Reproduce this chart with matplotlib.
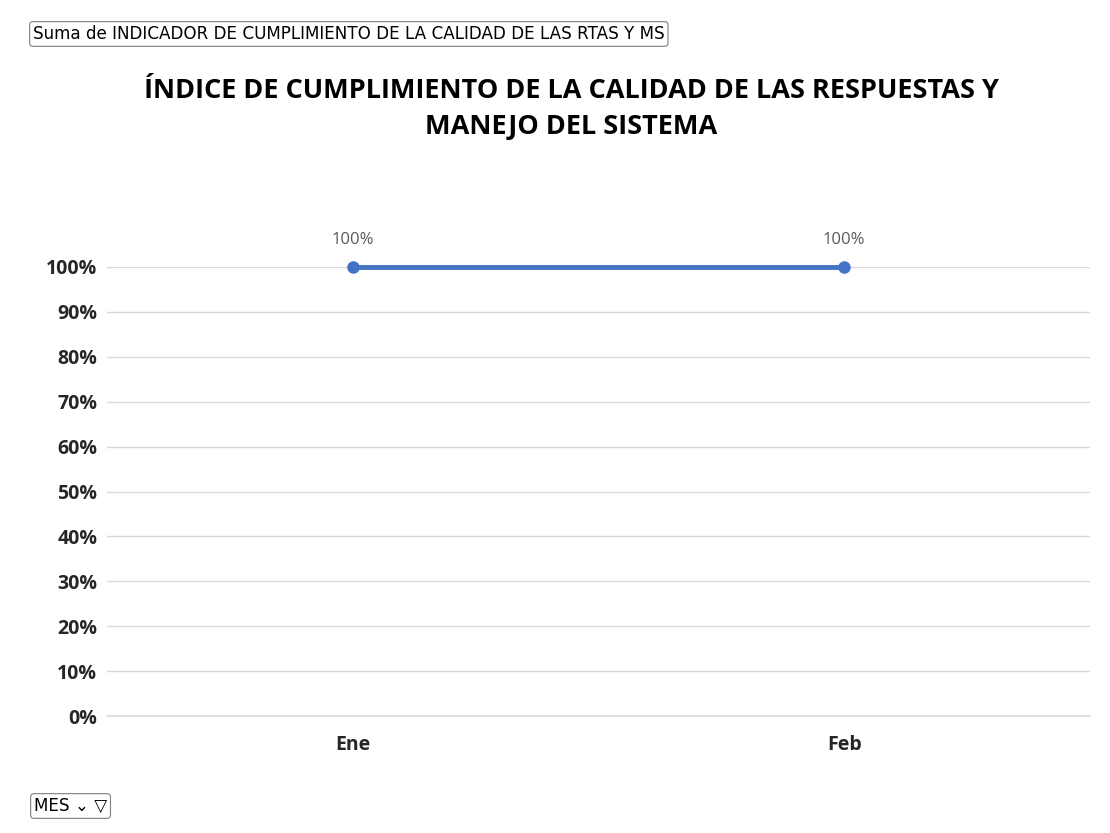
import matplotlib.pyplot as plt
from matplotlib.ticker import PercentFormatter

# data
months = ["Ene", "Feb"]
values = [1.0, 1.0]
data_labels = ["100%", "100%"]

title = "ÍNDICE DE CUMPLIMIENTO DE LA CALIDAD DE LAS RESPUESTAS Y\nMANEJO DEL SISTEMA"
field_label = "Suma de INDICADOR DE CUMPLIMIENTO DE LA CALIDAD DE LAS RTAS Y MS"

line_color = "#4472C4"

plt.rcParams['font.family'] = ['Open Sans', 'DejaVu Sans']

fig = plt.figure(figsize=(11.1, 8.33), dpi=100)
ax = fig.add_axes([107 / 1110, 1 - 716 / 833, (1090 - 107) / 1110, (716 - 267) / 833])

x = list(range(len(months)))
ax.plot(x, values, color=line_color, linewidth=3.5, marker="o", markersize=8, clip_on=False, zorder=3)
for xi, v, lab in zip(x, values, data_labels):
    ax.annotate(lab, (xi, v), xytext=(0, 14), textcoords="offset points",
                ha="center", va="bottom", fontsize=12, color="#595959")

ax.set_xlim(-0.5, len(months) - 0.5)
ax.set_ylim(0, 1.0)
ax.set_yticks([i / 10 for i in range(11)])
ax.yaxis.set_major_formatter(PercentFormatter(1.0, decimals=0))
ax.set_xticks(x)
ax.set_xticklabels(months)
for lab in ax.get_xticklabels() + ax.get_yticklabels():
    lab.set_fontweight("bold")
    lab.set_fontsize(14)
    lab.set_color("#262626")
ax.tick_params(axis="both", length=0)
ax.tick_params(axis="y", pad=7)
ax.tick_params(axis="x", pad=14)
ax.grid(axis="y", color="#D9D9D9", linewidth=1)
ax.axhline(0, color="#D9D9D9", linewidth=1.2, clip_on=False, zorder=1)
ax.set_axisbelow(True)
for s in ax.spines.values():
    s.set_visible(False)

fig.text(571 / 1110, 1 - 109 / 833, title, ha="center", va="center", fontsize=19.5,
         fontweight="bold", color="#000000", linespacing=1.45)

fig.text(33 / 1110, 1 - 34 / 833, field_label, ha="left", va="center", fontsize=12.1,
         family=["DejaVu Sans"], color="#000000",
         bbox=dict(boxstyle="round,pad=0.2,rounding_size=0.2", fc="white", ec="#7F7F7F", lw=0.8))
fig.text(34 / 1110, 1 - 806 / 833, "MES \u2304 \u25BD", ha="left", va="center", fontsize=12.1,
         family=["DejaVu Sans"], color="#000000",
         bbox=dict(boxstyle="round,pad=0.2,rounding_size=0.2", fc="white", ec="#7F7F7F", lw=0.8))

fig.savefig("out.png", dpi=100, facecolor="white")
